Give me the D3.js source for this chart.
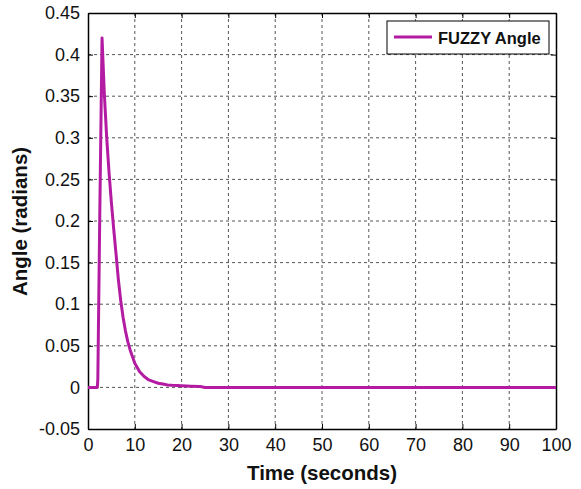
<!DOCTYPE html>
<html>
<head>
<meta charset="utf-8">
<script src="https://cdn.jsdelivr.net/npm/d3@7"></script>
<style>
  body { margin: 0; background: #fff; }
  svg { display: block; font-family: "Liberation Sans", Arial, sans-serif; }
</style>
</head>
<body>
<div id="chart"></div>
<script>
// values
var timeValues = [0, 1, 2, 2.1, 2.5, 3, 3.5, 4, 4.5, 5, 5.5, 6, 6.5, 7, 7.5, 8, 8.5, 9, 10, 11, 12, 13, 14, 15, 16, 17, 18, 20, 22, 24, 25, 100];
var angleValues = [0, 0, 0, 0.01, 0.2, 0.42, 0.352, 0.3, 0.258, 0.222, 0.19, 0.16, 0.129, 0.104, 0.084, 0.068, 0.055, 0.045, 0.029, 0.019, 0.013, 0.009, 0.007, 0.005, 0.004, 0.003, 0.0025, 0.002, 0.0015, 0.001, 0, 0];
var xTicks = [0, 10, 20, 30, 40, 50, 60, 70, 80, 90, 100];
var yTicks = [-0.05, 0, 0.05, 0.1, 0.15, 0.2, 0.25, 0.3, 0.35, 0.4, 0.45];
var seriesName = "FUZZY Angle";

var width = 581, height = 489;
var margin = {left: 88, right: 25, top: 13, bottom: 60};
var lineColor = "#b31ca2";

var svg = d3.select("#chart")
    .append("svg")
    .attr("width", width)
    .attr("height", height);

var x = d3.scaleLinear().domain([0, 100]).range([margin.left, width - margin.right]);
var y = d3.scaleLinear().domain([-0.05, 0.45]).range([height - margin.bottom, margin.top]);

var data = timeValues.map(function(t, i) { return {t: t, v: angleValues[i]}; });

// grid
svg.append("g")
    .selectAll("line")
    .data(xTicks.slice(1, -1))
    .enter().append("line")
    .attr("x1", function(d) { return x(d); })
    .attr("x2", function(d) { return x(d); })
    .attr("y1", y(0.45))
    .attr("y2", y(-0.05))
    .attr("stroke", "#555")
    .attr("stroke-dasharray", "3,3");

svg.append("g")
    .selectAll("line")
    .data(yTicks.slice(1, -1))
    .enter().append("line")
    .attr("y1", function(d) { return y(d); })
    .attr("y2", function(d) { return y(d); })
    .attr("x1", x(0))
    .attr("x2", x(100))
    .attr("stroke", "#555")
    .attr("stroke-dasharray", "3,3");

// axes (plain hyphen for negative numbers, like the original)
var fmtY = function(d) { return String(+d.toFixed(2)); };

svg.append("g")
    .attr("transform", "translate(0," + y(-0.05) + ")")
    .call(d3.axisBottom(x).tickValues(xTicks).tickSizeInner(-5).tickSizeOuter(0).tickPadding(9));
svg.append("g")
    .attr("transform", "translate(" + x(0) + ",0)")
    .call(d3.axisLeft(y).tickValues(yTicks).tickSizeInner(-5).tickSizeOuter(0).tickPadding(8).tickFormat(fmtY));
svg.append("g")
    .attr("transform", "translate(0," + y(0.45) + ")")
    .call(d3.axisTop(x).tickValues(xTicks).tickSizeInner(-5).tickSizeOuter(0).tickFormat(""));
svg.append("g")
    .attr("transform", "translate(" + x(100) + ",0)")
    .call(d3.axisRight(y).tickValues(yTicks).tickSizeInner(-5).tickSizeOuter(0).tickFormat(""));

svg.selectAll(".domain").attr("stroke", "#000").attr("stroke-width", 1.5);
svg.selectAll(".tick line").attr("stroke", "#000");
svg.selectAll(".tick text").attr("font-size", "18px").attr("fill", "#111")
    .attr("font-family", "Liberation Sans, Arial, sans-serif");

// line
svg.append("path")
    .datum(data)
    .attr("fill", "none")
    .attr("stroke", lineColor)
    .attr("stroke-width", 3)
    .attr("stroke-linejoin", "round")
    .attr("d", d3.line()
        .x(function(d) { return x(d.t); })
        .y(function(d) { return y(d.v); }));

// axis titles
svg.append("text")
    .attr("x", (x(0) + x(100)) / 2)
    .attr("y", 480)
    .attr("text-anchor", "middle")
    .attr("font-weight", "bold")
    .attr("font-size", "20.5px")
    .attr("fill", "#111")
    .text("Time (seconds)");

svg.append("text")
    .attr("transform", "translate(27," + (y(0.2) + 0.5) + ") rotate(-90)")
    .attr("text-anchor", "middle")
    .attr("font-weight", "bold")
    .attr("font-size", "20.5px")
    .attr("fill", "#111")
    .text("Angle (radians)");

// legend
var legend = svg.append("g").attr("transform", "translate(387,21)");
legend.append("rect")
    .attr("width", 162)
    .attr("height", 33)
    .attr("fill", "#fff")
    .attr("stroke", "#000")
    .attr("stroke-width", 1);
legend.append("line")
    .attr("x1", 7).attr("x2", 45)
    .attr("y1", 16).attr("y2", 16)
    .attr("stroke", lineColor)
    .attr("stroke-width", 3);
legend.append("text")
    .attr("x", 51)
    .attr("y", 22.5)
    .attr("font-weight", "bold")
    .attr("font-size", "16.5px")
    .attr("fill", "#111")
    .text(seriesName);
</script>
</body>
</html>
